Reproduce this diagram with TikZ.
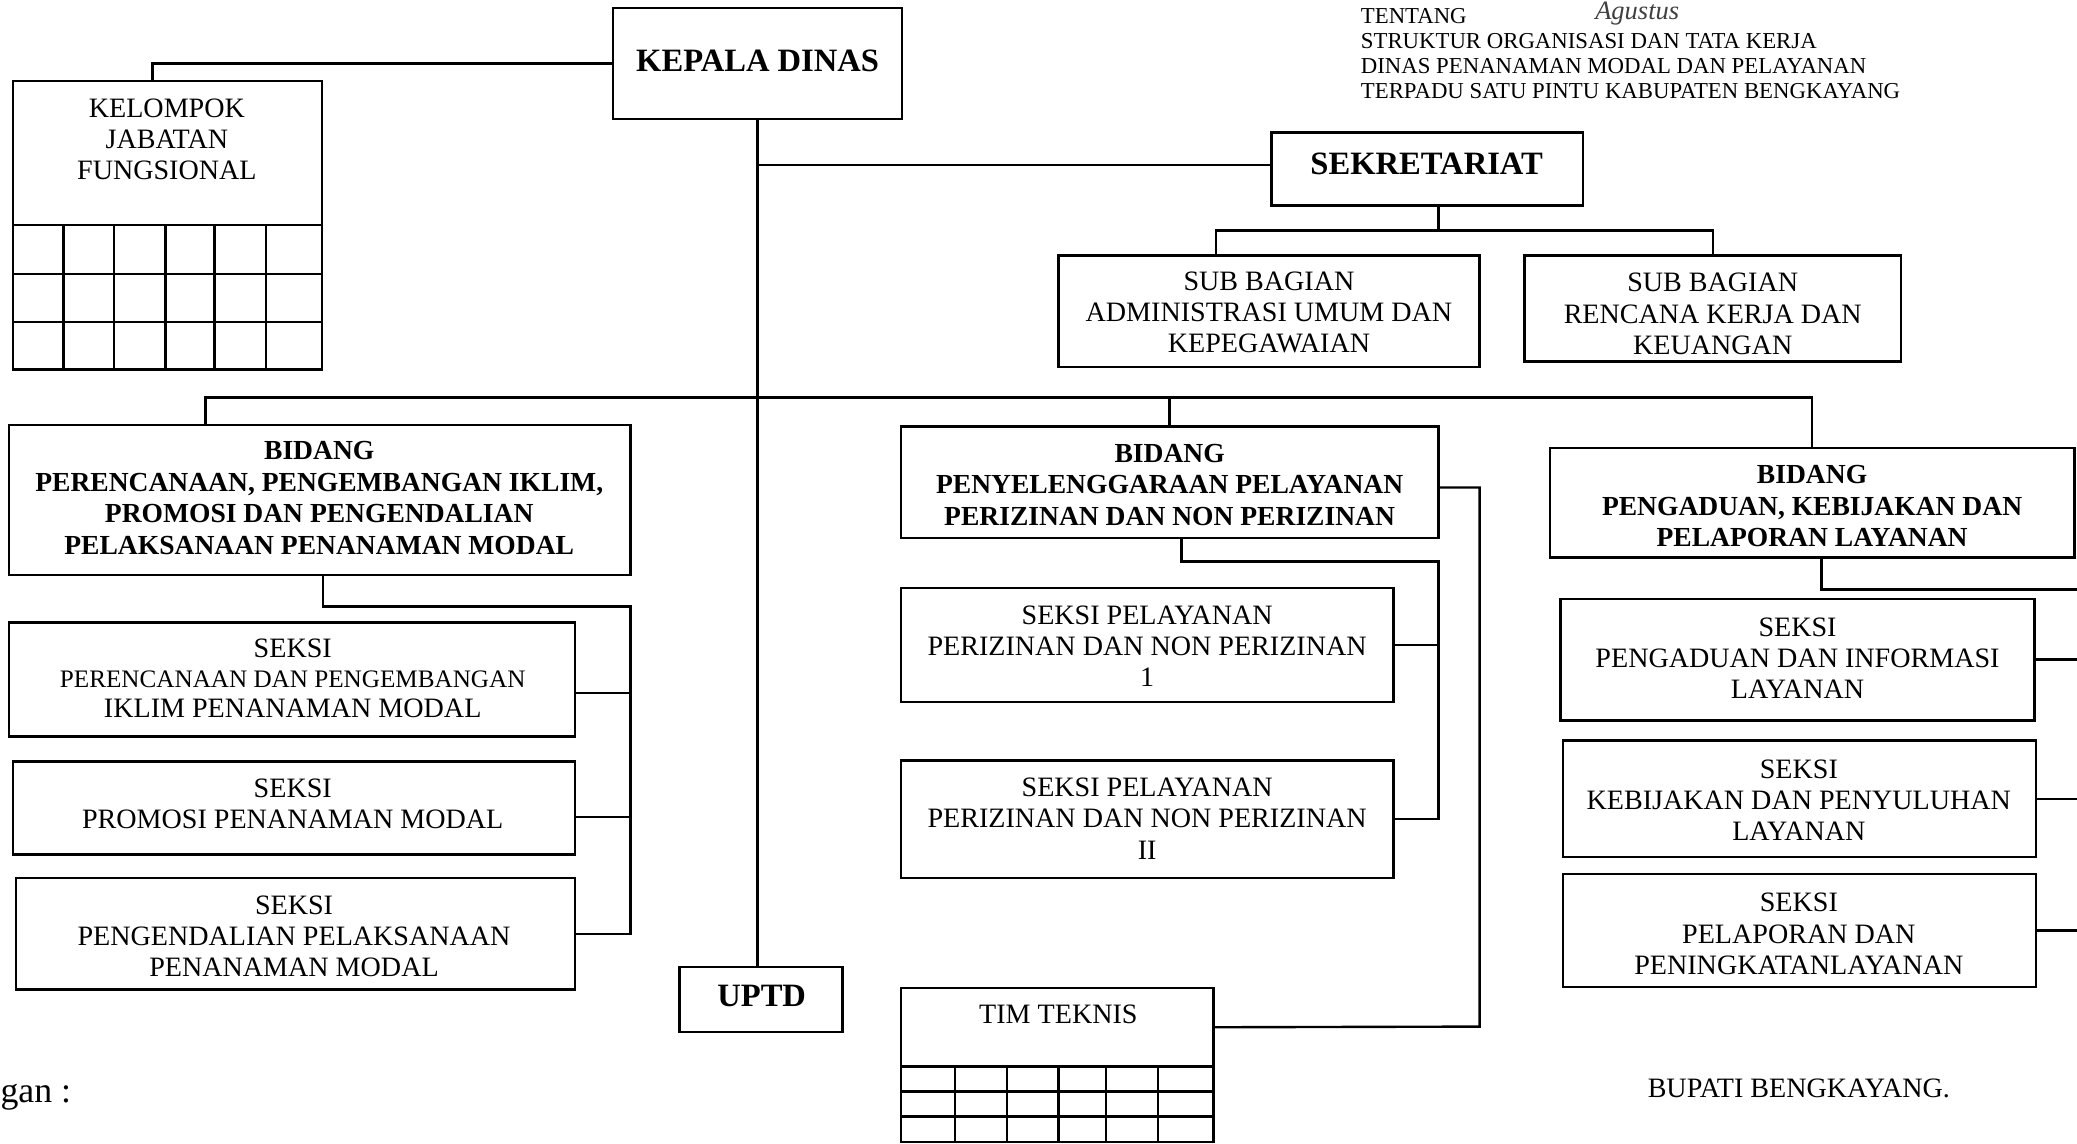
\documentclass[tikz,border=0pt]{standalone}
\usepackage{fontspec}
\setmainfont{Liberation Serif}
\usetikzlibrary{fit,calc}
\begin{document}
\begin{tikzpicture}[x=0.5pt,y=-0.5pt,
  box/.style={draw, line width=0.9pt, inner sep=0pt, fit={#1}},
  conn/.style={line width=0.9pt},
  txt/.style={align=center, inner sep=0pt, font=\fontsize{10.6}{11.75}\selectfont},
  btxt/.style={align=center, inner sep=0pt, font=\fontsize{10.4}{12}\selectfont\bfseries},
  htxt/.style={align=center, inner sep=0pt, font=\fontsize{12.3}{14}\selectfont\bfseries},
  smtxt/.style={align=left, inner sep=0pt, font=\fontsize{8.6}{9.5}\selectfont}]
\useasboundingbox (0,0) rectangle (1568,863);
\clip (0,0) rectangle (1568,863);
\fill[white] (0,0) rectangle (1568,863);

% boxes
\node[box={(463,6) (681,90)}] (kepala) {};
\node[box={(10,61) (243,170)}] (kelh) {};
\node[box={(10,170) (243,279)}] (kelg) {};
\node[box={(960,100) (1195,155)}] (sekr) {};
\node[box={(799,193) (1117,277)}] (subA) {};
\node[box={(1151,193) (1435,273)}] (subB) {};
\node[box={(7,321) (476,434)}] (bid1) {};
\node[box={(680,322) (1086,406)}] (bid2) {};
\node[box={(1170,338) (1566,421)}] (bid3) {};
\node[box={(7,470) (434,556)}] (s1a) {};
\node[box={(10,575) (434,645)}] (s1b) {};
\node[box={(12,663) (434,747)}] (s1c) {};
\node[box={(513,730) (636,779)}] (uptd) {};
\node[box={(680,444) (1052,530)}] (s2a) {};
\node[box={(680,574) (1052,663)}] (s2b) {};
\node[box={(680,746) (916,805)}] (timh) {};
\node[box={(680,805) (916,862)}] (timg) {};
\node[box={(1178,452) (1536,544)}] (s3a) {};
\node[box={(1180,559) (1537,647)}] (s3b) {};
\node[box={(1180,660) (1537,745)}] (s3c) {};

% grids
\foreach \x in {48,86,125,162,201} \draw[conn] (\x,170) -- (\x,279);
\foreach \y in {207,243} \draw[conn] (10,\y) -- (243,\y);
\foreach \x in {721,760,799,835,874} \draw[conn] (\x,805) -- (\x,862);
\foreach \y in {824,843} \draw[conn] (680,\y) -- (916,\y);

% junction coordinates
\coordinate (j1) at (1086,174);
\coordinate (hb) at (883,300);
\coordinate (t1) at (476,458);
\coordinate (t2) at (1086,424);
\coordinate (t3) at (1600,445);
\coordinate (tr) at (1117,775);
\coordinate (c1a) at ($(s1a.east)+(0,10)$);
\coordinate (c1b) at ($(s1b.east)+(0,7)$);
\coordinate (csk) at ($(sekr.west)+(0,-3)$);
\coordinate (cb2) at ($(bid2.east)+(0,4)$);

% connectors
\draw[conn] (kepala.west) -| ($(kelh.north west)+(106,0)$);
\draw[conn] (kepala.south) -- (kepala.south |- uptd.north);
\draw[conn] (csk) -- (csk -| kepala.south);
\draw[conn] ($(sekr.south)+(8.5,0)$) -- (j1);
\draw[conn] ($(subA.north west)+(120,0)$) |- (j1) -| (subB.north);
\draw[conn] ($(bid1.north west)+(149,0)$) |- (hb) -| (bid3.north);
\draw[conn] (bid2.north) -- (hb);
\draw[conn] ($(bid1.south)+(2.5,0)$) |- (t1) -- (t1 |- s1c.east) -- (s1c.east);
\draw[conn] (c1a) -- (c1a -| t1);
\draw[conn] (c1b) -- (c1b -| t1);
\draw[conn] (cb2) -| (tr) -- (timh.east);
\draw[conn] ($(bid2.south)+(9,0)$) |- (t2) |- (s2b.east);
\draw[conn] (s2a.east) -- (s2a.east -| t2);
\draw[conn] ($(bid3.south)+(7,0)$) |- (t3) |- (s3c.east);
\draw[conn] (s3a.east) -- (s3a.east -| t3);
\draw[conn] (s3b.east) -- (s3b.east -| t3);

% texts
\node[htxt] (tkepala) at (572,46) {KEPALA DINAS};
\node[txt] (tkel) at (126,105) {KELOMPOK\\JABATAN\\FUNGSIONAL};
\node[htxt] (tsekr) at (1077,124) {SEKRETARIAT};
\node[txt] (tsubA) at (958,236) {SUB BAGIAN\\ADMINISTRASI UMUM DAN\\KEPEGAWAIAN};
\node[txt] (tsubB) at (1293,237) {SUB BAGIAN\\RENCANA KERJA DAN\\KEUANGAN};
\node[btxt] (tbid1) at (241,376) {BIDANG\\PERENCANAAN, PENGEMBANGAN IKLIM,\\PROMOSI DAN PENGENDALIAN\\PELAKSANAAN PENANAMAN MODAL};
\node[btxt] (tbid2) at (883,366) {BIDANG\\PENYELENGGARAAN PELAYANAN\\PERIZINAN DAN NON PERIZINAN};
\node[btxt] (tbid3) at (1368,382) {BIDANG\\PENGADUAN, KEBIJAKAN DAN\\PELAPORAN LAYANAN};
\node[txt, font=\fontsize{10.6}{11.3}\selectfont] (ts1a) at (221,512) {SEKSI\\\fontsize{9.5}{11.3}\selectfont PERENCANAAN DAN PENGEMBANGAN\\IKLIM PENANAMAN MODAL};
\node[txt] (ts1b) at (221,607) {SEKSI\\PROMOSI PENANAMAN MODAL};
\node[txt] (ts1c) at (222,707) {SEKSI\\PENGENDALIAN PELAKSANAAN\\PENANAMAN MODAL};
\node[htxt] (tuptd) at (575,752) {UPTD};
\node[txt] (ts2a) at (866,488) {SEKSI PELAYANAN\\PERIZINAN DAN NON PERIZINAN\\1};
\node[txt] (ts2b) at (866,618) {SEKSI PELAYANAN\\PERIZINAN DAN NON PERIZINAN\\II};
\node[txt] (ttim) at (799,766) {TIM TEKNIS};
\node[txt] (ts3a) at (1357,497) {SEKSI\\PENGADUAN DAN INFORMASI\\LAYANAN};
\node[txt] (ts3b) at (1358,604) {SEKSI\\KEBIJAKAN DAN PENYULUHAN\\LAYANAN};
\node[txt] (ts3c) at (1358,705) {SEKSI\\PELAPORAN DAN\\PENINGKATANLAYANAN};
\node[smtxt, anchor=west] (thead) at (1027,40.5) {TENTANG\\STRUKTUR ORGANISASI DAN TATA KERJA\\DINAS PENANAMAN MODAL DAN PELAYANAN\\TERPADU SATU PINTU KABUPATEN BENGKAYANG};
\node[inner sep=0pt, anchor=base, font=\fontsize{10}{11}\selectfont\itshape, text=black!75] (thand) at (1236,15) {Agustus};
\node[txt, anchor=center] (tbupati) at (1358,822) {BUPATI BENGKAYANG.};
\node[txt, anchor=west, font=\fontsize{13.5}{14}\selectfont] (tket) at (0,828) {gan :};
\end{tikzpicture}
\end{document}
